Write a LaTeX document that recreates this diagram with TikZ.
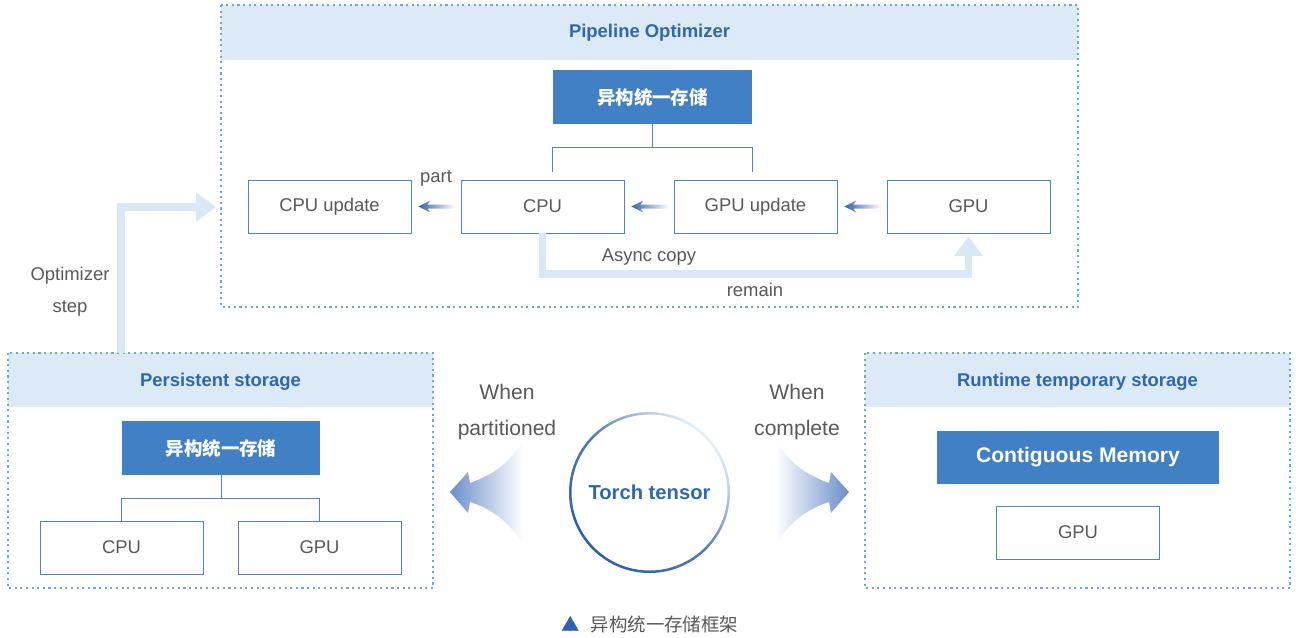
\documentclass[tikz,border=0pt]{standalone}
\usepackage{fontspec}
\setmainfont{Liberation Sans}
\newfontfamily\cjk{Noto Sans CJK SC}
\usetikzlibrary{arrows.meta,calc}

\definecolor{bandblue}{HTML}{DCE9F6}
\definecolor{dotblue}{HTML}{6AA5E0}
\definecolor{boxblue}{HTML}{4F83C6}
\definecolor{darkblue}{HTML}{4180C5}
\definecolor{titleblue}{HTML}{2F67B2}
\definecolor{textgray}{HTML}{595959}
\definecolor{lightarrow}{HTML}{DAE8F6}
\definecolor{fadeblue}{HTML}{2F62B0}
\definecolor{bigfade}{HTML}{6A8ECA}
\definecolor{ringdark}{HTML}{2A5FAE}
\definecolor{ringlight}{HTML}{E6EEF8}

\tikzset{
  panelline/.style={draw=dotblue, dash pattern=on 1.2pt off 2pt, line width=0.8pt},
  whitebox/.style={draw=boxblue, line width=0.45pt, fill=white, minimum width=3.26cm,
    minimum height=1.06cm, text=textgray, font=\fontsize{10.5}{12}\selectfont},
  darkbox/.style={fill=darkblue, minimum width=3.98cm, minimum height=1.08cm,
    text=white, font=\cjk\bfseries\fontsize{10.5}{12}\selectfont},
  paneltitle/.style={text=titleblue, font=\bfseries\fontsize{10.5}{12}\selectfont},
  plaintext/.style={text=textgray, font=\fontsize{10.5}{12}\selectfont},
  treeline/.style={draw=boxblue, line width=0.45pt},
  widearrow/.style={draw=lightarrow, line width=4.5pt, -{Triangle[width=15.9pt,length=11.3pt]}},
}

\begin{document}
\begin{tikzpicture}[x=0.02cm, y=-0.02cm]
    \useasboundingbox (0,0) rectangle (1296,637);

    % Panels
    \fill[bandblue] (221,5) rectangle (1078,60);
    \draw[panelline] (221,5) rectangle (1078,307);
    \fill[bandblue] (8,353) rectangle (433,407);
    \draw[panelline] (8,353) rectangle (433,588);
    \fill[bandblue] (865,353) rectangle (1290,407);
    \draw[panelline] (865,353) rectangle (1290,588);

    % Panel titles
    \node[paneltitle] (pipetitle) at (649.5,33) {Pipeline Optimizer};
    \node[paneltitle] (persisttitle) at (220.5,382) {Persistent storage};
    \node[paneltitle] (runtitle) at (1077.5,382) {Runtime temporary storage};

    % Pipeline optimizer
    \node[darkbox] (topdark) at (652.5,97) {异构统一存储};
    \node[whitebox] (cpuupd) at (329.5,206.5) {CPU update};
    \node[whitebox] (cpu) at (542.5,206.5) {CPU};
    \node[whitebox] (gpuupd) at (755.5,206.5) {GPU update};
    \node[whitebox] (gpu) at (968.5,206.5) {GPU};

    \draw[treeline] (topdark.south) -- ++(0,23) coordinate (tjoin);
    \draw[treeline] ($(cpu.north -| topdark.west)+(0,-8)$) |- (tjoin)
        -| ($(gpuupd.north -| topdark.east)+(0,-8)$);

    % Small fading arrows
    \shade[left color=fadeblue, right color=white] ($(cpuupd.east)+(7,0)$)
        -- ++(12,-6) -- ++(-3,4) -- ++(28,0) -- ++(0,4) -- ++(-28,0) -- ++(3,4) -- cycle;
    \shade[left color=fadeblue, right color=white] ($(cpu.east)+(7,0)$)
        -- ++(12,-6) -- ++(-3,4) -- ++(28,0) -- ++(0,4) -- ++(-28,0) -- ++(3,4) -- cycle;
    \shade[left color=fadeblue, right color=white] ($(gpuupd.east)+(7,0)$)
        -- ++(12,-6) -- ++(-3,4) -- ++(28,0) -- ++(0,4) -- ++(-28,0) -- ++(3,4) -- cycle;

    \node[plaintext] (part) at (436,178) {part};

    % Async copy
    \draw[widearrow, shorten >=1.7pt] (cpu.south) -- ++(0,41) -| (gpu.south);
    \node[plaintext] (async) at (649,257) {Async copy};
    \node[plaintext] (remain) at (755,290) {remain};

    % Optimizer step
    \coordinate (optfoot) at (121,353);
    \coordinate (opttip) at (216,207);
    \draw[widearrow] (optfoot) |- (opttip);
    \node[plaintext, align=center, font=\fontsize{10.5}{18}\selectfont] (optlabel) at (70,292) {Optimizer\\step};

    % Persistent storage
    \node[darkbox] (pdark) at (221,448) {异构统一存储};
    \node[whitebox] (pcpu) at (121.5,547.5) {CPU};
    \node[whitebox] (pgpu) at (319.5,547.5) {GPU};
    \draw[treeline] (pdark.south) -- ++(0,23) coordinate (pjoin);
    \draw[treeline] (pcpu.north) |- (pjoin) -| (pgpu.north);

    % Runtime temporary storage
    \node[darkbox, minimum width=5.64cm, minimum height=1.06cm,
        font=\bfseries\fontsize{12}{14}\selectfont] (contig) at (1078,457.5) {Contiguous Memory};
    \node[whitebox] (rgpu) at (1078,532.5) {GPU};

    % Torch tensor
    \node[circle, minimum size=3.2cm, text=titleblue,
        font=\bfseries\fontsize{11.5}{13}\selectfont] (torch) at (649.5,492.5) {Torch tensor};
    \shade[top color=ringlight, bottom color=ringdark, middle color=ringdark!80!ringlight,
        shading angle=-45, even odd rule]
        (torch.center) circle (80.5) circle (78);

    \node[plaintext, align=center, font=\fontsize{12}{20}\selectfont] (whenpart) at (507,412) {When\\partitioned};
    \node[plaintext, align=center, font=\fontsize{12}{20}\selectfont] (whencomp) at (797,412) {When\\complete};

    % Big fading arrows
    \shade[left color=bigfade, middle color=bigfade!25, right color=white] (450,492) -- (468,472) -- (470,483)
        .. controls (495,474) and (510,462) .. (523,441) -- (523,544)
        .. controls (510,524) and (495,510) .. (470,502) -- (468,513) -- cycle;
    \shade[left color=white, middle color=bigfade!25, right color=bigfade] (849,492) -- (831,472) -- (829,483)
        .. controls (804,474) and (789,462) .. (776,441) -- (776,544)
        .. controls (789,524) and (804,510) .. (829,502) -- (831,513) -- cycle;

    % Caption
    \node[plaintext, font=\cjk\fontsize{10.5}{12}\selectfont] (caption) at (650,624)
        {\textcolor{fadeblue}{▲}\hspace{6pt}异构统一存储框架};
\end{tikzpicture}
\end{document}
